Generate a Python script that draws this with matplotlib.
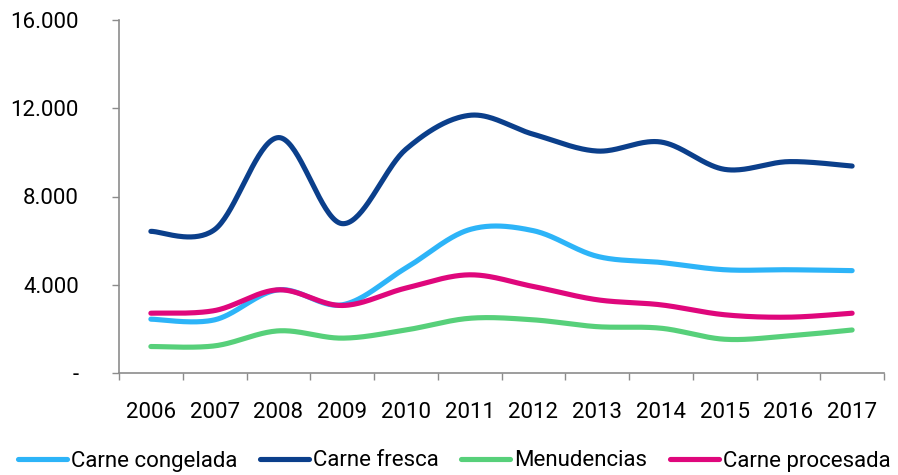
import numpy as np
import matplotlib
matplotlib.use("Agg")
import matplotlib.pyplot as plt
from matplotlib.ticker import FixedLocator, NullFormatter

# Data
years = ["2006", "2007", "2008", "2009", "2010", "2011",
         "2012", "2013", "2014", "2015", "2016", "2017"]
carne_congelada = [2440, 2410, 3770, 3090, 4760, 6500, 6450, 5290, 5010, 4680, 4680, 4640]
carne_fresca = [6420, 6500, 10670, 6770, 10140, 11680, 10820, 10060, 10470, 9230, 9580, 9380]
menudencias = [1200, 1230, 1910, 1580, 1950, 2480, 2410, 2100, 2030, 1530, 1680, 1950]
carne_procesada = [2710, 2830, 3770, 3060, 3850, 4450, 3920, 3320, 3090, 2640, 2530, 2710]

series = [
    ("Carne congelada", carne_congelada, "#2DB4F8"),
    ("Carne fresca", carne_fresca, "#0B3F8B"),
    ("Menudencias", menudencias, "#57D07A"),
    ("Carne procesada", carne_procesada, "#DF077C"),
]

yticks = [0, 4000, 8000, 12000, 16000]
ytick_labels = ["-", "4.000", "8.000", "12.000", "16.000"]


def smooth(y, n=40):
    # Excel-like smoothed line: Catmull-Rom spline through the points
    y = np.asarray(y, dtype=float)
    x = np.arange(len(y), dtype=float)
    pts = np.column_stack([x, y])
    ext = np.vstack([pts[0], pts, pts[-1]])
    out = []
    t = np.linspace(0, 1, n)
    for i in range(len(pts) - 1):
        p0, p1, p2, p3 = ext[i], ext[i + 1], ext[i + 2], ext[i + 3]
        c1 = p1 + (p2 - p0) / 6
        c2 = p2 - (p3 - p1) / 6
        seg = ((1 - t) ** 3)[:, None] * p1 + (3 * (1 - t) ** 2 * t)[:, None] * c1 \
            + (3 * (1 - t) * t ** 2)[:, None] * c2 + (t ** 3)[:, None] * p2
        out.append(seg if i == 0 else seg[1:])
    out = np.vstack(out)
    return out[:, 0], out[:, 1]


plt.rcParams["font.family"] = ["Roboto", "DejaVu Sans"]

fig = plt.figure(figsize=(8.98, 4.75), dpi=100)
ax = fig.add_axes([119 / 898, 1 - 373 / 475, (884 - 119) / 898, (373 - 20) / 475])

for name, vals, color in series:
    sx, sy = smooth(vals)
    ax.plot(sx, sy, color=color, lw=3.7, label=name, solid_capstyle="round")

ax.set_xlim(-0.5, len(years) - 0.5)
ax.set_ylim(0, 16000)

ax.set_yticks(yticks)
ax.set_yticklabels(ytick_labels, fontsize=16)
ax.tick_params(axis="y", length=5, width=1, color="#8c8c8c", pad=24)

# category labels centred, ticks at category boundaries
ax.set_xticks(range(len(years)))
ax.set_xticklabels(years, fontsize=16)
ax.tick_params(axis="x", which="major", length=0, pad=21)
ax.xaxis.set_minor_locator(FixedLocator(np.arange(-0.5, len(years), 1)))
ax.xaxis.set_minor_formatter(NullFormatter())
ax.tick_params(axis="x", which="minor", length=5, width=1, color="#8c8c8c")

for s in ["top", "right"]:
    ax.spines[s].set_visible(False)
for s in ["left", "bottom"]:
    ax.spines[s].set_color("#8c8c8c")
    ax.spines[s].set_linewidth(1.2)

fig.legend(loc="center", bbox_to_anchor=(0.506, 1 - 461 / 475), ncol=4,
           frameon=False, prop={"size": 16},
           handlelength=2.2, handletextpad=0.2, columnspacing=1.0,
           borderaxespad=0)

fig.savefig("out.png", dpi=100)
